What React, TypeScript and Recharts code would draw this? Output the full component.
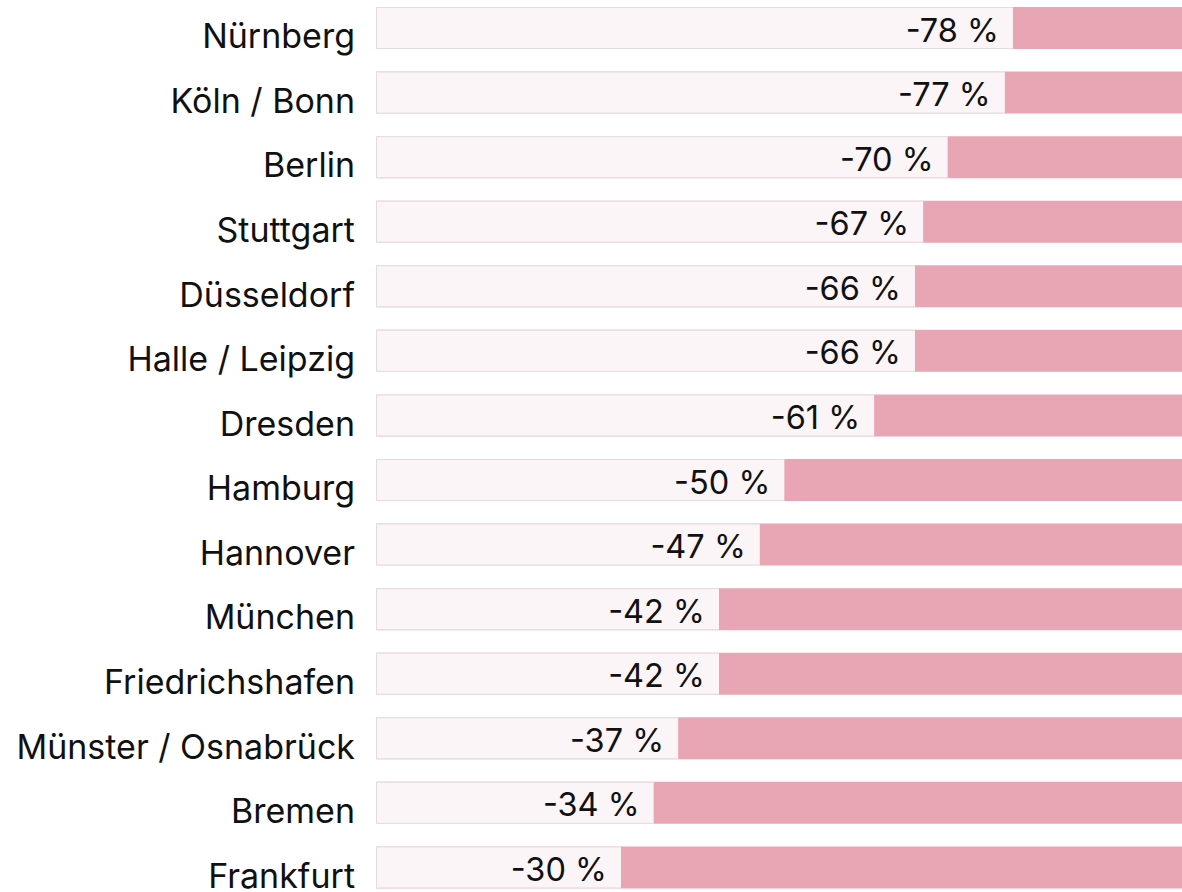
import { BarChart, Bar, XAxis, YAxis, LabelList } from 'recharts';

const cities = [
  'Nürnberg',
  'Köln / Bonn',
  'Berlin',
  'Stuttgart',
  'Düsseldorf',
  'Halle / Leipzig',
  'Dresden',
  'Hamburg',
  'Hannover',
  'München',
  'Friedrichshafen',
  'Münster / Osnabrück',
  'Bremen',
  'Frankfurt',
];

const changes = [-78, -77, -70, -67, -66, -66, -61, -50, -47, -42, -42, -37, -34, -30];

const data = cities.map((city, i) => ({ city, change: changes[i] }));

const FONT = 'Inter, "Noto Sans", sans-serif';

const CityTick = ({ x, y, payload }: any) => (
  <text x={x - 13} y={y + 20} textAnchor="end" fontFamily={FONT} fontSize={34} fill="#111">
    {payload.value}
  </text>
);

const TrackBar = (props: any) => {
  const { x, y, width, height } = props;
  const left = Math.min(x, x + width);
  const right = Math.max(x, x + width);
  return (
    <g>
      <rect x={left} y={y} width={right - left} height={height} fill="#fbf5f7" />
      <path
        d={`M${right},${y + 0.5} H${left + 0.5} V${y + height - 0.5} H${right}`}
        fill="none"
        stroke="#e4dadf"
        strokeWidth={1}
      />
    </g>
  );
};

const ValueLabel = (props: any) => {
  const { x, y, width, height, value } = props;
  const right = Math.max(x, x + width);
  return (
    <text x={right - 14} y={y + height / 2 + 13.5} textAnchor="end" fontFamily={FONT} fontSize={32.5} fill="#111">
      {`${value} %`}
    </text>
  );
};

export default function App() {
  return (
    <div style={{ width: 1182, height: 892, overflow: 'hidden', position: 'relative', background: '#fff' }}>
      <style>{`body{margin:0}`}</style>
      <div style={{ position: 'absolute', top: -4, left: 0 }}>
        <BarChart
          layout="vertical"
          width={1182}
          height={904}
          data={data}
          margin={{ top: 0, right: 0, bottom: 0, left: 0 }}
        >
          <XAxis type="number" hide reversed domain={[-98.7, 0]} />
          <YAxis
            type="category"
            dataKey="city"
            width={376}
            axisLine={false}
            tickLine={false}
            tick={<CityTick />}
            interval={0}
          />
          <Bar
            dataKey="change"
            barSize={42}
            background={{ fill: '#e8a5b4' }}
            shape={<TrackBar />}
            isAnimationActive={false}
          >
            <LabelList dataKey="change" content={<ValueLabel />} />
          </Bar>
        </BarChart>
      </div>
    </div>
  );
}
